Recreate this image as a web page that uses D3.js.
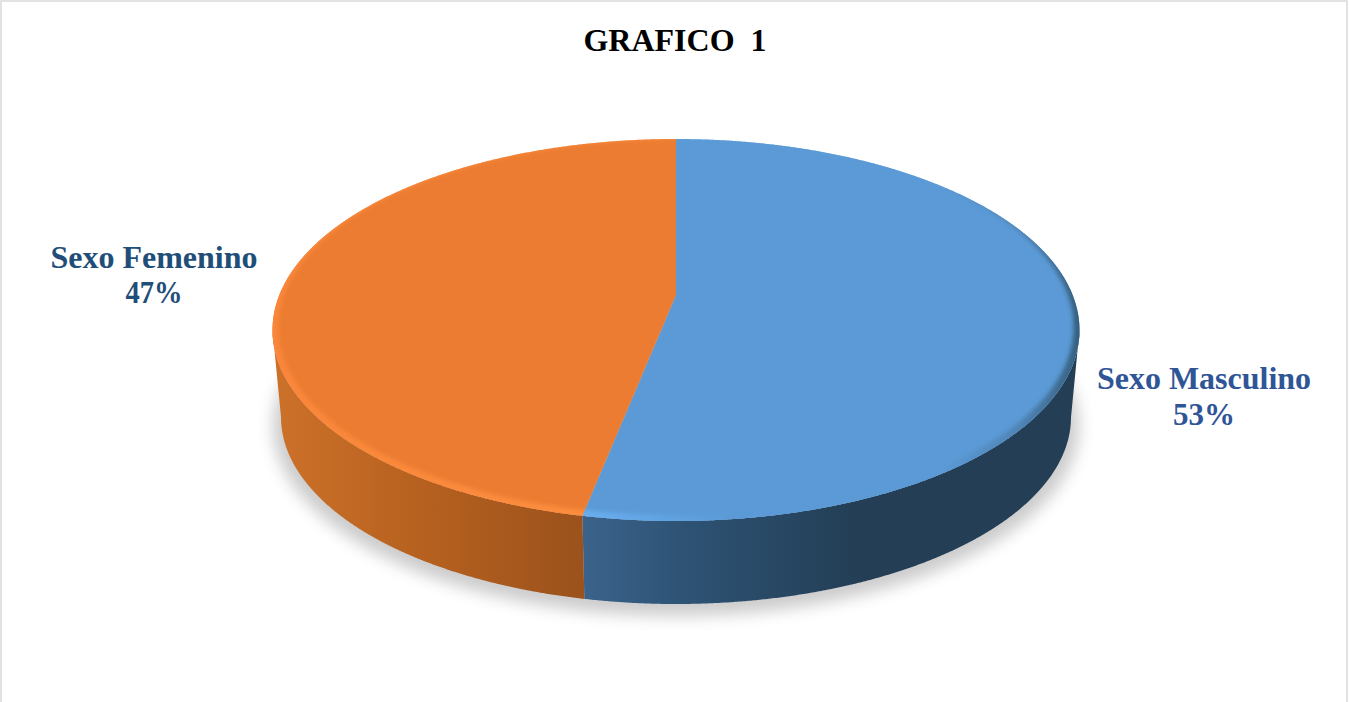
<!DOCTYPE html>
<html><head><meta charset="utf-8">
<script src="https://cdn.jsdelivr.net/npm/d3@7/dist/d3.min.js"></script>
<style>html,body{margin:0;padding:0;background:#fff;overflow:hidden}svg{display:block}text{font-family:"Liberation Serif",serif;font-weight:bold;text-anchor:middle;white-space:pre}</style>
</head><body><svg id="c" width="1349" height="702"></svg>
<script>
const categories = ["Sexo Masculino", "Sexo Femenino"];
const values = [53.1, 46.9];
const valueLabels = ["53%", "47%"];
const titleText = "GRAFICO  1";
const topColors = ["#5b9ad6", "#eb7c31"];
const labelColors = ["#2f5597", "#1f4e79"];
const sideStops = [
  [[0, "#3b638b"], [0.35, "#2e5375"], [1, "#233e55"]],
  [[0, "#9b521c"], [0.5, "#b5601f"], [1, "#cb7029"]]
];
const sideRange = [[583, 860], [582, 281]];
const bandStops = [
  [[0, "#69aef0"], [0.3, "#5b9ad6"], [0.72, "#5b9ad6"], [0.88, "#4f84b6"], [1, "#36607f"]],
  [[0, "#fd8d3d"], [1, "#f9863a"]]
];
const bandRange = [[582, 1079], [582, 272]];

const svg = d3.select("#c");
const defs = svg.append("defs");

// frame
svg.append("rect").attr("x", 1).attr("y", 1).attr("width", 1346).attr("height", 800)
  .attr("fill", "#fff").attr("stroke", "#d9d9d9").attr("stroke-width", 1.5);

// disk geometry
const cx = 676, cy = 330, rx = 403.5, ry = 191, hubY = 295, backY = 139, frontY = 521;
const bFront = frontY - hubY, bBack = hubY - backY;
const k = (bFront - bBack) / (bFront + bBack);
const B = bFront * (1 - k), A = rx * Math.sqrt(1 - k * k);
const proj = a => {
  const u = Math.sin(a), v = -Math.cos(a), w = 1 - k * v;
  return [cx + A * u / w, hubY + B * v / w];
};
// lower disk outline
const lowX = d3.scaleLinear().domain([cx - rx, cx + rx]).range([281, 1071]);
const lowY = d3.scaleLinear().domain([cy - ry, cy + ry]).range([230, 604]);
const low = p => [lowX(p[0]), lowY(p[1])];

const pie = d3.pie().sort(null).value(d => d);
const arcs = pie(values);
const line = d3.line();
const slicePts = d => d3.range(d.startAngle, d.endAngle, 0.004).concat([d.endAngle]).map(proj);
const ellipsePts = (x, y, a, b) => d3.range(0, 2 * Math.PI, 0.01).map(t => [x + a * Math.cos(t), y + b * Math.sin(t)]);

function grad(id, stops, range) {
  const g = defs.append("linearGradient").attr("id", id).attr("gradientUnits", "userSpaceOnUse")
    .attr("x1", range[0]).attr("x2", range[1]).attr("y1", 0).attr("y2", 0);
  g.selectAll("stop").data(stops).join("stop").attr("offset", d => d[0]).attr("stop-color", d => d[1]);
}
arcs.forEach((d, i) => { grad("side" + i, sideStops[i], sideRange[i]); grad("band" + i, bandStops[i], bandRange[i]); });

const f1 = defs.append("filter").attr("id", "shadow").attr("x", "-10%").attr("y", "-10%").attr("width", "120%").attr("height", "125%");
f1.append("feGaussianBlur").attr("stdDeviation", 8);
const f2 = defs.append("filter").attr("id", "soft").attr("x", "-5%").attr("y", "-5%").attr("width", "110%").attr("height", "110%");
f2.append("feGaussianBlur").attr("stdDeviation", 2);

// drop shadow
svg.append("path").attr("d", line(ellipsePts(lowX(cx), 426, 403, 190)) + "Z")
  .attr("fill", "#000").attr("opacity", 0.2).attr("filter", "url(#shadow)");

// side walls
arcs.forEach((d, i) => {
  const pts = slicePts(d);
  const xs = pts.map(p => p[0]);
  const front = i === 0 ? pts.slice(d3.maxIndex(xs)) : pts.slice(0, d3.minIndex(xs) + 1);
  svg.append("path").attr("d", line(front.concat(front.slice().reverse().map(low))) + "Z")
    .attr("fill", `url(#side${i})`);
});

// top faces
arcs.forEach((d, i) => {
  const hub = [cx, hubY], pts = slicePts(d);
  const dPath = line([hub].concat(pts)) + "Z";
  svg.append("path").attr("d", dPath).attr("fill", topColors[i]);
  defs.append("clipPath").attr("id", "wedge" + i).append("path").attr("d", dPath);
});

// bevel along the near rim
const bevel = 6;
const bandPath = line(ellipsePts(cx, cy, rx + 8, ry + 8)) + "Z" +
  line(ellipsePts(cx, cy - bevel / 2, rx - bevel, ry - bevel / 2)) + "Z";
arcs.forEach((d, i) => {
  svg.append("g").attr("clip-path", `url(#wedge${i})`).append("path")
    .attr("d", bandPath).attr("fill-rule", "evenodd").attr("fill", `url(#band${i})`).attr("filter", "url(#soft)");
});

// texts
svg.append("text").attr("x", 675).attr("y", 51).attr("font-size", 32).attr("fill", "#000").text(titleText);
const labelPos = [[1204, 389, 425], [154, 268, 303]];
const valueWidths = [62, 57];
categories.forEach((c, i) => {
  const g = svg.append("g").attr("fill", labelColors[i]).attr("font-size", 32);
  g.append("text").attr("x", labelPos[i][0]).attr("y", labelPos[i][1]).text(c);
  g.append("text").attr("x", labelPos[i][0]).attr("y", labelPos[i][2])
    .attr("textLength", valueWidths[i]).attr("lengthAdjust", "spacingAndGlyphs").text(valueLabels[i]);
});
</script></body></html>
